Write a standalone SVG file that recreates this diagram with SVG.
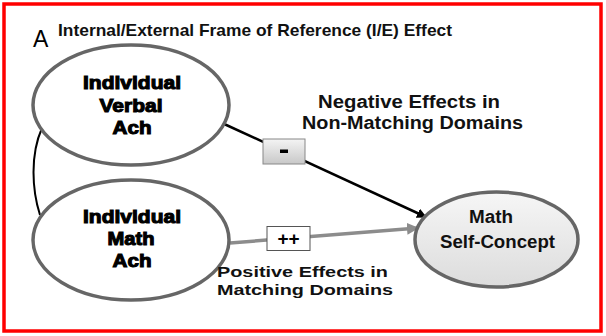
<svg xmlns="http://www.w3.org/2000/svg" width="606" height="336" viewBox="0 0 606 336">
<defs>
<linearGradient id="gBox" x1="0" y1="0" x2="0" y2="1"><stop offset="0" stop-color="#f4f4f4"/><stop offset="1" stop-color="#c8c8c8"/></linearGradient>
<linearGradient id="gEll" x1="0" y1="0" x2="0" y2="1"><stop offset="0" stop-color="#f6f6f6"/><stop offset="1" stop-color="#dcdcdc"/></linearGradient>
<marker id="ahB" markerWidth="10" markerHeight="10" refX="9" refY="5" orient="auto" markerUnits="userSpaceOnUse" viewBox="0 0 10 10"><path d="M0,0 L10,5 L0,10 Z" fill="#000"/></marker>
<marker id="ahG" markerWidth="12" markerHeight="12" refX="11" refY="6" orient="auto" markerUnits="userSpaceOnUse" viewBox="0 0 12 12"><path d="M0,0 L12,6 L0,12 Z" fill="#8c8c8c"/></marker>
<style>
.ell{stroke:#666;stroke-width:3.5}
.heavy{font-family:"Liberation Sans",Arial,sans-serif;font-weight:bold;font-size:19px;fill:#000;stroke:#000;stroke-width:1.1;text-anchor:middle}
.lbl{font-family:"Liberation Sans",Arial,sans-serif;font-weight:bold;font-size:18px;fill:#111}
.lbl2{font-family:"Liberation Sans",Arial,sans-serif;font-weight:bold;font-size:15.5px;fill:#111}
</style>
</defs>
<rect x="0" y="0" width="606" height="336" fill="#fff"/>
<rect x="4" y="4" width="597" height="327" fill="none" stroke="#ff0000" stroke-width="3.5"/>
<text x="33" y="47" font-family="Liberation Sans,Arial,sans-serif" font-size="23" fill="#000">A</text>
<text x="58" y="36" font-family="Liberation Sans,Arial,sans-serif" font-weight="bold" font-size="17" fill="#111" textLength="394" lengthAdjust="spacingAndGlyphs">Internal/External Frame of Reference (I/E) Effect</text>
<g id="connectors">
<path d="M42,128 C30,155 32,190 40,215" fill="none" stroke="#000" stroke-width="2"/>
<line x1="222" y1="123" x2="426" y2="217" stroke="#000" stroke-width="2.5" marker-end="url(#ahB)"/>
<line x1="230" y1="243" x2="418" y2="228" stroke="#8c8c8c" stroke-width="3.5" marker-end="url(#ahG)"/>
</g>
<g id="verbal">
<ellipse cx="131" cy="105" rx="98" ry="60" fill="#fff" class="ell"/>
<text class="heavy" x="132" y="89" textLength="98" lengthAdjust="spacingAndGlyphs">Individual</text>
<text class="heavy" x="131" y="112" textLength="63" lengthAdjust="spacingAndGlyphs">Verbal</text>
<text class="heavy" x="132" y="134" textLength="39" lengthAdjust="spacingAndGlyphs">Ach</text>
</g>
<g id="math">
<ellipse cx="131" cy="240" rx="98" ry="60" fill="#fff" class="ell"/>
<text class="heavy" x="132" y="223" textLength="98" lengthAdjust="spacingAndGlyphs">Individual</text>
<text class="heavy" x="131" y="245" textLength="47" lengthAdjust="spacingAndGlyphs">Math</text>
<text class="heavy" x="132" y="267" textLength="39" lengthAdjust="spacingAndGlyphs">Ach</text>
</g>
<g id="selfconcept">
<ellipse cx="496.5" cy="239.5" rx="81.5" ry="47.5" fill="url(#gEll)" class="ell"/>
<text x="491" y="223" text-anchor="middle" font-family="Liberation Sans,Arial,sans-serif" font-weight="bold" font-size="18" fill="#111" textLength="44" lengthAdjust="spacingAndGlyphs">Math</text>
<text x="497.5" y="248" text-anchor="middle" font-family="Liberation Sans,Arial,sans-serif" font-weight="bold" font-size="18" fill="#111" textLength="115" lengthAdjust="spacingAndGlyphs">Self-Concept</text>
</g>
<g id="neg-label">
<rect x="263" y="139" width="42" height="25" fill="url(#gBox)" stroke="#888" stroke-width="1"/>
<rect x="280" y="149.5" width="8" height="3.5" fill="#000"/>
<text class="lbl" x="318" y="108" textLength="182" lengthAdjust="spacingAndGlyphs">Negative Effects in</text>
<text class="lbl" x="302" y="129" textLength="221" lengthAdjust="spacingAndGlyphs">Non-Matching Domains</text>
</g>
<g id="pos-label">
<rect x="267" y="226.5" width="43" height="24" fill="#fff" stroke="#555" stroke-width="1"/>
<text x="288.5" y="245" text-anchor="middle" font-family="Liberation Sans,Arial,sans-serif" font-weight="bold" font-size="19" fill="#000">++</text>
<text class="lbl2" x="217" y="277" textLength="171" lengthAdjust="spacingAndGlyphs">Positive Effects in</text>
<text class="lbl2" x="217" y="295" textLength="176" lengthAdjust="spacingAndGlyphs">Matching Domains</text>
</g>
</svg>
